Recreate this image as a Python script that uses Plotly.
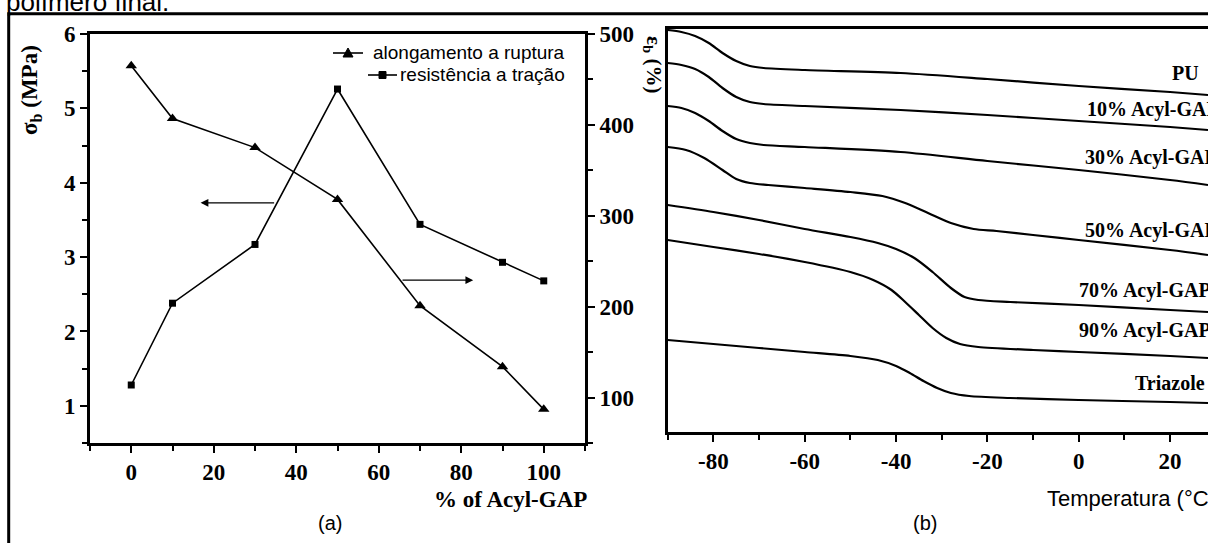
import plotly.graph_objects as go

W, H = 1208, 543

# ---------------- Panel (a) data ----------------
acyl_pct = [0, 10, 30, 50, 70, 90, 100]
tensile_mpa = [1.28, 2.38, 3.17, 5.26, 3.44, 2.93, 2.68]      # resistência a tração (left axis)
elong_pct = [465, 407, 375, 318, 201, 134, 87]               # alongamento a ruptura (right axis)
xa_ticks = [0, 20, 40, 60, 80, 100]
ya_ticks = [1, 2, 3, 4, 5, 6]
ya2_ticks = [100, 200, 300, 400, 500]

# ---------------- Panel (b) data (DSC signal, arbitrary units) ----------------
T_pu = [-90, -87, -84, -81, -78, -75, -72, -69, -60, -39, -20, 0, 20, 28.3]
S_pu = [402, 400, 396, 389, 379, 371, 366, 364, 362, 359, 353, 346, 340, 337]

T_10 = [-90, -87, -84, -81, -78, -75, -72, -69, -60, -39, -20, 0, 20, 28.3]
S_10 = [369, 367, 363, 355, 344, 335, 330, 328, 326, 322, 317, 311, 305, 302]

T_30 = [-90, -87, -84, -81, -78, -75, -72, -69, -60, -39, -20, 0, 20, 28.3]
S_30 = [326, 324, 319, 311, 301, 293, 289, 287, 285, 280, 271, 262, 252, 247]

T_50 = [-90, -86, -82, -78, -75, -72, -68, -60, -50, -43, -38, -33, -28, -23, -18, -10, 0, 20, 28.3]
S_50 = [285, 282, 274, 262, 253, 249, 247, 244, 240, 236, 229, 219, 209, 203, 201, 197, 192, 182, 177]

T_70 = [-90, -80, -70, -60, -50, -44, -40, -36, -32, -28, -25, -22, -15, 0, 20, 28.3]
S_70 = [227, 220, 212, 203, 195, 189, 183, 174, 160, 144, 135, 132, 130, 127, 122, 120]

T_90 = [-90, -80, -70, -60, -50, -45, -41, -38, -35, -32, -29, -26, -22, -10, 0, 20, 28.3]
S_90 = [192, 185, 178, 170, 160, 152, 142, 130, 117, 104, 94, 88, 85, 82, 80, 76, 74]

T_tz = [-90, -80, -70, -60, -50, -44, -40, -37, -34, -31, -28, -24, -15, 0, 20, 28.3]
S_tz = [92, 88, 84, 80, 76, 72, 66, 59, 51, 44, 39, 36, 34, 32, 30, 29]

curve_labels = ["PU", "10% Acyl-GAP", "30% Acyl-GAP", "50% Acyl-GAP",
                "70% Acyl-GAP", "90% Acyl-GAP", "Triazole"]
label_T = [20, 1.4, 1.0, 1.0, -0.4, -0.4, 11.9]
label_S = [359, 322, 275, 202, 142, 102, 49]
xb_ticks = [-80, -60, -40, -20, 0, 20]
xb_ticktext = ["-80", "-60", "-40", "-20", "0", "20"]

curves_T = [T_pu, T_10, T_30, T_50, T_70, T_90, T_tz]
curves_S = [S_pu, S_10, S_30, S_50, S_70, S_90, S_tz]


def px(x):
    return x / W


def py(y):
    return 1 - y / H


SERIF_B = dict(family="Liberation Serif", size=23, color="black", weight="bold")
SANS = dict(family="Liberation Sans", size=19, color="black")

fig = go.Figure()

# Panel (a) traces
fig.add_trace(go.Scatter(x=acyl_pct, y=tensile_mpa, mode="lines+markers",
                         line=dict(color="black", width=1.6),
                         marker=dict(symbol="square", size=7, color="black"),
                         xaxis="x", yaxis="y", showlegend=False))
fig.add_trace(go.Scatter(x=acyl_pct, y=elong_pct, mode="lines+markers",
                         line=dict(color="black", width=1.6),
                         marker=dict(symbol="triangle-up", size=10, color="black"),
                         xaxis="x", yaxis="y2", showlegend=False))

# Panel (b) traces
for Tv, Sv in zip(curves_T, curves_S):
    fig.add_trace(go.Scatter(x=Tv, y=Sv, mode="lines",
                             line=dict(color="black", width=2.2, shape="spline", smoothing=0.8),
                             xaxis="x2", yaxis="y3", showlegend=False))

axis_common = dict(showline=True, linecolor="black", linewidth=2.6, ticks="outside",
                   tickcolor="black", tickwidth=2.2, ticklen=7, showgrid=False,
                   zeroline=False, tickfont=SERIF_B)

fig.update_layout(
    width=W, height=H, margin=dict(l=0, r=0, t=0, b=0, autoexpand=False),
    paper_bgcolor="white", plot_bgcolor="white",
    xaxis=dict(domain=[px(90), px(585)], range=[-10, 110], anchor="y",
               tickvals=xa_ticks, mirror=True,
               minor=dict(ticks="outside", dtick=10, tick0=0, ticklen=5, tickwidth=2, tickcolor="black"),
               **axis_common),
    yaxis=dict(domain=[py(443), py(34)], range=[0.5, 6], anchor="x",
               tickvals=ya_ticks,
               minor=dict(ticks="outside", dtick=0.5, tick0=0, ticklen=5, tickwidth=2, tickcolor="black"),
               **axis_common),
    yaxis2=dict(range=[50, 500], overlaying="y", side="right", anchor="x",
                tickvals=ya2_ticks,
                minor=dict(ticks="outside", dtick=50, tick0=0, ticklen=5, tickwidth=2, tickcolor="black"),
                **axis_common),
    xaxis2=dict(domain=[px(667.7), 1.0], range=[-90, 28.3], anchor="y3",
                tickvals=xb_ticks, ticktext=xb_ticktext, mirror=True,
                minor=dict(ticks="outside", dtick=10, tick0=0, ticklen=5, tickwidth=2, tickcolor="black"),
                **axis_common),
    yaxis3=dict(domain=[py(432), py(29)], range=[0, 403], anchor="x2",
                showline=True, linecolor="black", linewidth=2.6, ticks="",
                showticklabels=False, showgrid=False, zeroline=False),
)


def txt(text, x, y, font, xanchor="center", yanchor="middle", angle=0):
    return dict(text=text, x=px(x), y=py(y), xref="paper", yref="paper",
                xanchor=xanchor, yanchor=yanchor, textangle=angle,
                showarrow=False, font=font)


ann = []
# axis titles and captions
ann.append(txt("σ<sub>b</sub> (MPa)", 31, 90, dict(SERIF_B, size=23), angle=-90))
ann.append(txt("ε<sub>b</sub> (%)", 653, 64, dict(SERIF_B, size=21), angle=90))
ann.append(txt("% of Acyl-GAP", 510, 499, dict(SERIF_B, size=23)))
ann.append(txt("Temperatura (°C)", 1045, 498, dict(SANS, size=22), xanchor="left"))
ann.append(txt("(a)", 330, 523, dict(SANS, size=20)))
ann.append(txt("(b)", 925, 523, dict(SANS, size=20)))
ann.append(txt("polímero final.", 4, 2, dict(SANS, size=26), xanchor="left"))

# legend (manual)
ann.append(txt("alongamento a ruptura", 567, 53, dict(SANS, size=19), xanchor="right"))
ann.append(txt("resistência a tração", 567, 75, dict(SANS, size=19), xanchor="right"))

# arrows
ann.append(dict(x=16.8, y=3.73, ax=35, ay=3.73, xref="x", yref="y", axref="x", ayref="y",
                text="", showarrow=True, arrowhead=2, arrowsize=1.3, arrowwidth=1.2, arrowcolor="black"))
ann.append(dict(x=82.9, y=2.69, ax=65.4, ay=2.69, xref="x", yref="y", axref="x", ayref="y",
                text="", showarrow=True, arrowhead=2, arrowsize=1.3, arrowwidth=1.2, arrowcolor="black"))

# curve labels panel b
for t, tx, ty in zip(curve_labels, label_T, label_S):
    ann.append(dict(text=t, x=tx, y=ty, xref="x2", yref="y3", xanchor="left", yanchor="middle",
                    showarrow=False, font=dict(SERIF_B, size=20)))

fig.update_layout(annotations=ann)

shapes = []
# outer frame
shapes.append(dict(type="rect", xref="paper", yref="paper", x0=px(8.7), x1=1.02,
                   y0=py(13.8), y1=-0.05, line=dict(color="black", width=3)))
# legend keys
shapes.append(dict(type="line", xref="paper", yref="paper", x0=px(333), x1=px(363),
                   y0=py(53), y1=py(53), line=dict(color="black", width=1.6)))
shapes.append(dict(type="path", xref="paper", yref="paper",
                   path=f"M {px(343)},{py(57)} L {px(353)},{py(57)} L {px(348)},{py(48)} Z",
                   fillcolor="black", line=dict(color="black", width=1)))
shapes.append(dict(type="line", xref="paper", yref="paper", x0=px(368), x1=px(397),
                   y0=py(75), y1=py(75), line=dict(color="black", width=1.6)))
shapes.append(dict(type="rect", xref="paper", yref="paper", x0=px(379), x1=px(386),
                   y0=py(78.5), y1=py(71.5), fillcolor="black", line=dict(color="black", width=1)))
fig.update_layout(shapes=shapes)

fig.write_html("out.html")
